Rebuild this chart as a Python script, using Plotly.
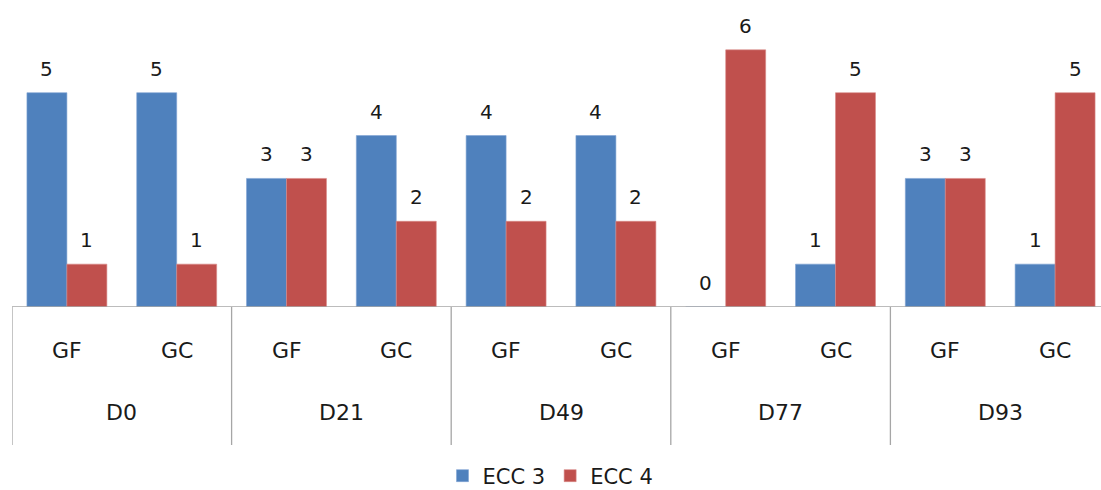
import plotly.graph_objects as go

# Data: ECC counts per day and group
days = ["D0", "D21", "D49", "D77", "D93"]
groups = ["GF", "GC"]
ecc3 = [5, 5, 3, 4, 4, 4, 0, 1, 3, 1]
ecc4 = [1, 1, 3, 2, 2, 2, 6, 5, 3, 5]

BLUE = "#4F81BD"
RED = "#C0504D"
AXIS = "#A6A6A6"
FONT = "DejaVu Sans"

n = len(ecc3)
xs = list(range(n))
bw = 0.364  # width of each bar in slot units

fig = go.Figure()
fig.add_trace(go.Bar(x=xs, y=ecc3, name="ECC 3", width=bw, offset=-bw,
                     marker=dict(color=BLUE, line=dict(color="#7FA3D3", width=0.6))))
fig.add_trace(go.Bar(x=xs, y=ecc4, name="ECC 4", width=bw, offset=0,
                     marker=dict(color=RED, line=dict(color="#D98A88", width=0.6))))

annotations = []
# value labels above each bar
for i in xs:
    for val, dx in ((ecc3[i], -bw / 2), (ecc4[i], bw / 2)):
        annotations.append(dict(x=i + dx, y=val, xref="x", yref="y", text=str(val),
                                showarrow=False, yshift=24, yanchor="middle",
                                font=dict(family=FONT, size=20, color="#1a1a1a")))
# inner category labels (GF / GC)
for i in xs:
    annotations.append(dict(x=i, y=0, xref="x", yref="y", text=groups[i % 2],
                            showarrow=False, yshift=-43, yanchor="middle",
                            font=dict(family=FONT, size=22, color="#1a1a1a")))
# outer category labels (days)
for k, d in enumerate(days):
    annotations.append(dict(x=2 * k + 0.5, y=0, xref="x", yref="y", text=d,
                            showarrow=False, yshift=-105, yanchor="middle",
                            font=dict(family=FONT, size=22, color="#1a1a1a")))

shapes = []
# separators between day groups
for k in range(len(days)):
    shapes.append(dict(type="line", xref="x", yref="paper", x0=2 * k - 0.5, x1=2 * k - 0.5,
                       y0=0, y1=-138 / 300, line=dict(color=AXIS, width=1.3)))
# baseline
shapes.append(dict(type="line", xref="paper", yref="y", x0=0, x1=1, y0=0, y1=0,
                   line=dict(color=AXIS, width=1.3)))

fig.update_layout(
    width=1101, height=490,
    margin=dict(l=12, r=0, t=7, b=183),
    paper_bgcolor="white", plot_bgcolor="white",
    barmode="overlay",
    showlegend=True,
    legend=dict(orientation="h", x=0.5, xref="container", xanchor="center",
                y=14 / 490, yref="container", yanchor="middle",
                font=dict(family=FONT, size=21, color="#1a1a1a"),
                itemwidth=30, tracegroupgap=0),
    xaxis=dict(range=[-0.5, -0.5 + 1089 / 109.8], showticklabels=False, showgrid=False,
               zeroline=False, showline=False, ticks=""),
    yaxis=dict(range=[0, 7], showticklabels=False, showgrid=False, zeroline=False,
               showline=False, ticks=""),
    annotations=annotations,
    shapes=shapes,
)

fig.write_html("out.html")
